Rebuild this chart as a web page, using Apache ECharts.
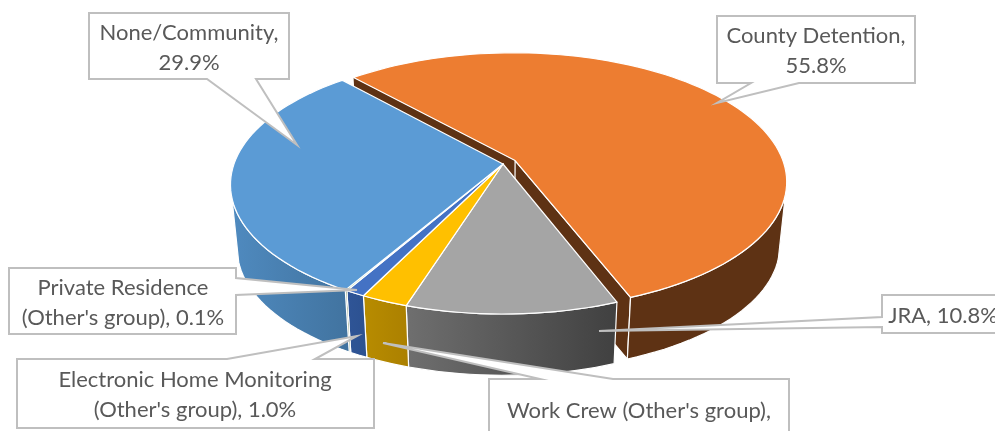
<!DOCTYPE html>
<html>
<head>
<meta charset="utf-8">
<title>Placement</title>
<script src="https://cdn.jsdelivr.net/npm/echarts@6/dist/echarts.min.js"></script>
<style>
  html, body { margin: 0; padding: 0; background: #fff; overflow: hidden; }
  #pie3d { width: 995px; height: 431px; }
</style>
</head>
<body>
<div id="pie3d"></div>
<script>
// clockwise from the first slice angle
var categories = ['County Detention', 'JRA', "Work Crew (Other's group)",
    "Electronic Home Monitoring (Other's group)", "Private Residence (Other's group)", 'None/Community'];
var values = [55.8, 10.8, 2.4, 1.0, 0.1, 29.9];

var topColors = ['#ed7d31', '#a5a5a5', '#ffc000', '#4472c4', '#70ad47', '#5b9bd5'];
var wallLeft = ['#5e3214', '#6f6f6f', '#b88c00', '#2f5597', '#43682b', '#4f8abf'];
var wallRight = ['#5e3214', '#404040', '#ab8000', '#2c5190', '#43682b', '#41739f'];
var explode = [0.053, 0, 0, 0, 0, 0];

var firstAngle = -42;   // degrees clockwise from the back of the pie
var total = values.reduce(function (a, b) { return a + b; }, 0);

// projection of the unit circle (perspective view from above)
var view = { cx: 503, cy: 164, a: 269, b: 126, k: -0.16, depth: 65, bottomScale: 0.975 };
// part of the rim that faces the viewer, ends sit where the side edges touch the rim
var frontFrom = 105, frontTo = 255;

function project(u, v, level) {
    var s = level ? view.bottomScale : 1;
    var w = 1 + view.k * v;
    return [view.cx + s * view.a * u / w, view.cy + level * view.depth + s * view.b * v / w];
}

function arcPoints(from, to, du, dv, level) {
    var pts = [];
    var n = Math.max(2, Math.ceil(Math.abs(to - from) / 2));
    for (var i = 0; i <= n; i++) {
        var t = (from + (to - from) * i / n) * Math.PI / 180;
        pts.push(project(Math.sin(t) + du, -Math.cos(t) + dv, level));
    }
    return pts;
}

function poly(points, fill, z2, noStroke) {
    return {
        type: 'polygon',
        z2: z2,
        shape: { points: points },
        style: { fill: fill, stroke: noStroke ? null : '#fff', lineWidth: 1.2, lineJoin: 'round' }
    };
}

function renderSlice(params, api) {
    var i = params.dataIndex;
    var start = firstAngle + api.value(1) / total * 360;
    var end = start + api.value(0) / total * 360;
    var mid = (start + end) / 2 * Math.PI / 180;
    var du = explode[i] * Math.sin(mid);
    var dv = -explode[i] * Math.cos(mid);
    var pulled = explode[i] > 0;
    var base = pulled ? 0 : 10;
    var children = [];
    var topArc = arcPoints(start, end, du, dv, 0);
    var apexTop = project(du, dv, 0);
    var apexBottom = project(du, dv, 1);

    if (pulled) {
        // the cut faces only show on the slice that is pulled out
        var wall = wallLeft[i];
        var endBottom = project(Math.sin(end * Math.PI / 180) + du, -Math.cos(end * Math.PI / 180) + dv, 1);
        var startBottom = project(Math.sin(start * Math.PI / 180) + du, -Math.cos(start * Math.PI / 180) + dv, 1);
        children.push(poly([apexTop, topArc[0], startBottom, apexBottom], wall, base + 1, true));
        children.push(poly([apexTop, topArc[topArc.length - 1], endBottom, apexBottom], wall, base + 1));
    }
    var wallFrom = Math.max(start, frontFrom);
    var wallTo = Math.min(end, frontTo);
    if (wallTo > wallFrom) {
        var wallTop = arcPoints(wallFrom, wallTo, du, dv, 0);
        var wallBottom = arcPoints(wallFrom, wallTo, du, dv, 1);
        children.push(poly(wallTop.concat(wallBottom.reverse()), new echarts.graphic.LinearGradient(0, 0, 1, 0, [
            { offset: 0, color: wallLeft[i] },
            { offset: 1, color: wallRight[i] }
        ]), base + 2));
    }
    children.push(poly([apexTop].concat(topArc), topColors[i], base + 3));
    return { type: 'group', children: children };
}

// callout boxes: box, then pointer base on the box edge and tip
var callouts = [
    { i: 0, box: [717, 16, 915, 83], ptr: [[799, 83], [717, 103], [751, 83]], tx: 816, ty: 51 },
    { i: 1, box: [882, 295, 1010, 333], ptr: [[882, 327], [599, 331], [882, 317]], tx: 943, ty: 316 },
    { i: 2, box: [489, 379, 789, 450], ptr: [[613, 379], [383, 343], [540, 379]], tx: 639, ty: 426, valueLine: true },
    { i: 3, box: [17, 359, 374, 428], ptr: [[315, 359], [357, 336], [227, 359]], tx: 195, ty: 395 },
    { i: 4, box: [9, 268, 236, 334], ptr: [[236, 295], [357, 290], [236, 278]], tx: 123, ty: 303 },
    { i: 5, box: [89, 13, 289, 79], ptr: [[256, 79], [297, 145], [207, 79]], tx: 189, ty: 48 }
];

function labelText(c) {
    var name = categories[c.i];
    var pct = values[c.i].toFixed(1) + '%';
    if (c.valueLine || name.indexOf(' (') < 0 && name.length > 3) return name + ',\n' + pct;
    return name.replace(' (', '\n(') + ', ' + pct;
}

function calloutGraphics() {
    var out = [];
    callouts.forEach(function (c) {
        var b = c.box;
        var pts = [];
        var corners = [[b[0], b[1]], [b[2], b[1]], [b[2], b[3]], [b[0], b[3]]];
        // walk the box clockwise and drop the pointer in on the edge it sits on
        var edge = c.ptr[0][1] === b[1] ? 0 : c.ptr[0][1] === b[3] ? 2 : c.ptr[0][0] === b[0] && c.ptr[2][0] === b[0] ? 3 : 1;
        corners.forEach(function (p, j) {
            pts.push(p);
            if (j === edge) {
                var seq = edge === 0 ? [c.ptr[2], c.ptr[1], c.ptr[0]] : c.ptr;
                if (edge === 1) seq = [c.ptr[2], c.ptr[1], c.ptr[0]];
                pts = pts.concat(seq);
            }
        });
        out.push({
            type: 'polygon',
            z: 20,
            shape: { points: pts },
            style: { fill: '#fff', stroke: '#bfbfbf', lineWidth: 2, lineJoin: 'miter' }
        });
        out.push({
            type: 'text',
            z: 21,
            x: c.tx,
            y: c.ty,
            style: {
                text: labelText(c),
                x: 0,
                y: 0,
                align: 'center',
                verticalAlign: 'middle',
                fill: '#595959',
                font: '22px Lato, "Open Sans", sans-serif',
                lineHeight: 30
            }
        });
    });
    return out;
}

var chart = echarts.init(document.getElementById('pie3d'), null, { renderer: 'canvas' });

var cumulative = 0;
var sliceData = values.map(function (v, i) {
    var row = [v, cumulative, categories[i]];
    cumulative += v;
    return row;
});

chart.setOption({
    animation: false,
    backgroundColor: '#fff',
    tooltip: { show: false },
    graphic: calloutGraphics(),
    series: [{
        type: 'custom',
        coordinateSystem: 'none',
        silent: true,
        renderItem: renderSlice,
        data: sliceData
    }]
});
</script>
</body>
</html>
